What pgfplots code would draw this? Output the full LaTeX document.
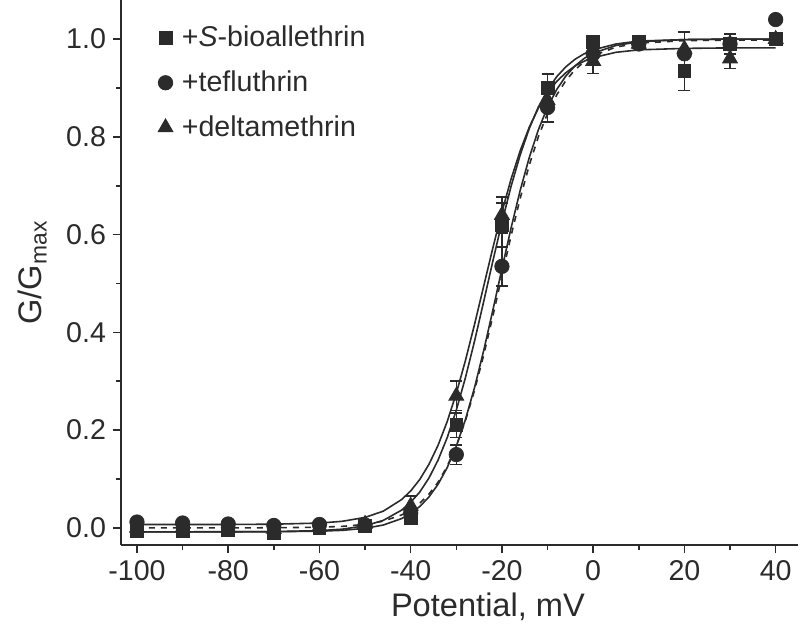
\documentclass[border=0pt]{standalone}
\usepackage{fontspec}
\setmainfont{Liberation Sans}
\usepackage{pgfplots}
\pgfplotsset{compat=1.18}
\definecolor{ink}{HTML}{2B2B2B}
\begin{document}
\begin{tikzpicture}
\begin{axis}[
 scale only axis, width=338.5pt, height=272.5pt,
 xmin=-103.5, xmax=44.9, ymin=-0.035, ymax=1.08,
 axis x line=bottom, axis y line=left,
 axis line style={-, line width=0.8pt, ink},
 tick align=outside, major tick length=4pt, minor tick length=2.5pt,
 every tick/.style={line width=0.8pt, ink},
 xtick={-100,-80,...,40}, minor xtick={-90,-70,...,30},
 ytick={0,0.2,0.4,0.6,0.8,1.0}, minor ytick={0.1,0.3,0.5,0.7,0.9},
 yticklabel style={/pgf/number format/.cd, fixed, fixed zerofill, precision=1},
 /pgf/number format/assume math mode=true,
 tick label style={font=\fontsize{14.3}{16}\selectfont, text=ink},
 xlabel={Potential, mV}, ylabel={G/G\textsubscript{max}},
 label style={font=\fontsize{16.3}{18}\selectfont, text=ink},
 xlabel style={at={(axis description cs:0.542,-0.114)}, anchor=center},
 ylabel style={at={(axis description cs:-0.131,0.5)}, anchor=center},
 legend style={at={(axis description cs:0.052,0.96)}, anchor=north west, draw=none, fill=none,
   font=\fontsize{14.3}{16}\selectfont, text=ink, inner sep=0pt, row sep=6.5pt, legend cell align=left},
 legend image code/.code={\path (0cm,0cm) (0.36cm,0cm); \draw[#1] plot coordinates {(0.15cm,0cm)};},
 error bars/y dir=both, error bars/y explicit,
 error bars/error mark options={rotate=90, mark size=3pt, line width=0.8pt, ink},
 error bars/error bar style={line width=0.8pt, ink},
]
% fitted curves
\addplot[ink, line width=0.8pt, forget plot] coordinates {
(-100,0.007) (-90,0.007) (-80,0.007) (-70,0.0076) (-60,0.0099) (-55,0.0135) (-50,0.0215) (-46,0.0343) (-42,0.0579) (-40,0.0756) (-38,0.0992) (-36,0.130) (-34,0.169) (-32,0.2175) (-30,0.2754) (-28,0.3425) (-26,0.4165) (-24,0.4945) (-22,0.5725) (-20,0.6465) (-18,0.7136) (-16,0.7715) (-14,0.820) (-12,0.859) (-10,0.8898) (-8,0.9134) (-6,0.9311) (-4,0.9449) (-2,0.9547) (0,0.962) (5,0.973) (10,0.978) (20,0.981) (30,0.982) (40,0.982)};
\addplot[ink, line width=0.8pt, forget plot] coordinates {
(-100,-0.008) (-90,-0.008) (-80,-0.0079) (-70,-0.0075) (-60,-0.0056) (-55,-0.0026) (-50,0.0043) (-46,0.0154) (-42,0.0363) (-40,0.0525) (-38,0.0735) (-36,0.102) (-34,0.1387) (-32,0.1846) (-30,0.241) (-28,0.3073) (-26,0.3823) (-24,0.463) (-22,0.5455) (-20,0.6253) (-18,0.6986) (-16,0.763) (-14,0.8173) (-12,0.8614) (-10,0.896) (-8,0.923) (-6,0.9432) (-4,0.9586) (-2,0.9698) (0,0.978) (5,0.990) (10,0.996) (20,0.999) (30,1.0) (40,1.0)};
\addplot[ink, line width=0.8pt, forget plot] coordinates {
(-100,-0.008) (-90,-0.008) (-80,-0.008) (-70,-0.0078) (-60,-0.0067) (-55,-0.005) (-50,-0.0009) (-46,0.0059) (-42,0.019) (-40,0.0296) (-38,0.0438) (-36,0.0633) (-34,0.0893) (-32,0.1233) (-30,0.1672) (-28,0.2217) (-26,0.2873) (-24,0.3626) (-22,0.445) (-20,0.530) (-18,0.6135) (-16,0.6904) (-14,0.758) (-12,0.8148) (-10,0.8608) (-8,0.8967) (-6,0.9243) (-4,0.945) (-2,0.9603) (0,0.9713) (5,0.987) (10,0.9946) (20,0.999) (30,1.0) (40,1.0)};
\addplot[ink, line width=0.8pt, dashed, forget plot] coordinates {
(-100,0.0) (-90,0.0) (-80,0.0) (-70,0.0003) (-60,0.0014) (-55,0.0031) (-50,0.0072) (-46,0.0138) (-42,0.0265) (-40,0.0366) (-38,0.0505) (-36,0.069) (-34,0.0935) (-32,0.1262) (-30,0.1677) (-28,0.2194) (-26,0.2817) (-24,0.3536) (-22,0.4328) (-20,0.5157) (-18,0.5975) (-16,0.6741) (-14,0.7425) (-12,0.8006) (-10,0.848) (-8,0.8858) (-6,0.915) (-4,0.937) (-2,0.9536) (0,0.9658) (5,0.9837) (10,0.9918) (20,0.9968) (30,0.998) (40,0.998)};
% error bars
\addplot[draw=none, mark=none, forget plot, error bars/.cd, y dir=both, y explicit] coordinates {
(-30,0.21) +- (0,0.025) (-20,0.62) +- (0,0.045) (-10,0.90) +- (0,0.028) (0,0.995) +- (0,0.01) (20,0.935) +- (0,0.04) (30,0.99) +- (0,0.02)};
\addplot[draw=none, mark=none, forget plot, error bars/.cd, y dir=both, y explicit] coordinates {
(-30,0.15) +- (0,0.02) (-20,0.535) +- (0,0.04) (-10,0.86) +- (0,0.03) (20,0.97) +- (0,0.045)};
\addplot[draw=none, mark=none, forget plot, error bars/.cd, y dir=both, y explicit] coordinates {
(-40,0.045) +- (0,0.02) (-30,0.27) +- (0,0.03) (-20,0.64) +- (0,0.037) (0,0.955) +- (0,0.025) (30,0.96) +- (0,0.02)};
% markers
\addplot[only marks, mark=square*, mark size=3.2pt, ink, mark options={fill=ink, draw=ink}] coordinates {
(-100,-0.006) (-90,-0.006) (-80,-0.005) (-70,-0.01) (-60,0.0) (-50,0.004) (-40,0.02) (-30,0.21) (-20,0.62) (-10,0.90) (0,0.995) (10,0.995) (20,0.935) (30,0.99) (40,1.0)};
\addlegendentry{+\textit{S}-bioallethrin}
\addplot[only marks, mark=*, mark size=3.6pt, ink, mark options={fill=ink, draw=ink}] coordinates {
(-100,0.012) (-90,0.01) (-80,0.008) (-70,0.005) (-60,0.007) (-50,0.006) (-40,0.03) (-30,0.15) (-20,0.535) (-10,0.86) (0,0.97) (10,0.99) (20,0.97) (30,0.99) (40,1.04)};
\addlegendentry{+tefluthrin}
\addplot[only marks, mark=triangle*, mark size=4.3pt, ink, mark options={fill=ink, draw=ink}] coordinates {
(-100,0.0) (-90,0.0) (-80,0.0) (-70,-0.002) (-60,0.002) (-50,0.008) (-40,0.045) (-30,0.27) (-20,0.64) (-10,0.875) (0,0.955) (10,0.99) (20,0.98) (30,0.96) (40,1.0)};
\addlegendentry{+deltamethrin}
\end{axis}
\pgfresetboundingbox
\path[use as bounding box] ([xshift=-60.5pt,yshift=-43.5pt]current axis.south west) rectangle ([xshift=1pt]current axis.north east);
\end{tikzpicture}
\end{document}
